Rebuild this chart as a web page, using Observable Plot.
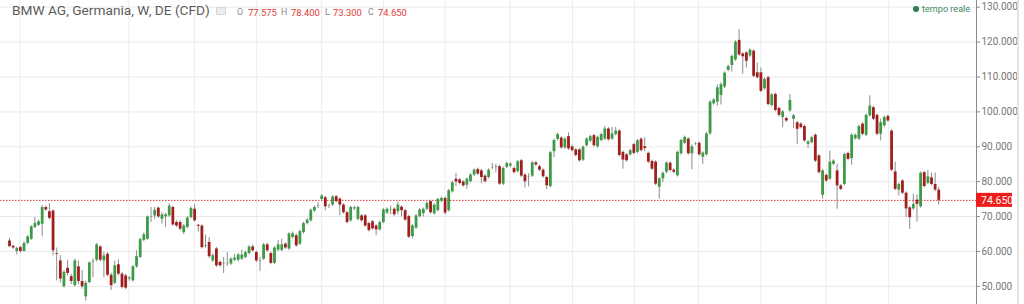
<!DOCTYPE html>
<html><head><meta charset="utf-8">
<script src="https://cdn.jsdelivr.net/npm/d3@7"></script>
<script src="https://cdn.jsdelivr.net/npm/@observablehq/plot@0.6"></script>
<style>
body{margin:0;background:#fff;font-family:Roboto,"Noto Sans",sans-serif;}
#wrap{position:relative;width:1024px;height:304px;overflow:hidden;}
#chart svg{display:block;}
.ab{position:absolute;white-space:nowrap;line-height:1;}
#title{left:12px;top:4px;font-size:13.7px;color:#5c5c5c;}
#ico{left:216px;top:7px;width:8px;height:6px;border:1px solid #d6d6d6;background:#ececec;border-radius:1px;}
.k{font-size:8.8px;color:#8a8a8a;top:8px;}
.v{font-size:9.4px;color:#e53935;top:7.5px;}
#dot{left:913px;top:6px;width:6px;height:6px;border-radius:50%;background:#2e7d50;}
#live{left:922px;top:4.5px;font-size:9.1px;color:#3f8a63;}
#sb{left:1017px;top:0;width:2px;height:304px;background:#e2e2e2;}
</style></head><body>
<div id="wrap"><div id="chart"></div>
<div id="title" class="ab"></div>
<div id="ico" class="ab"></div>
<div id="dot" class="ab"></div>
<div id="live" class="ab"></div>
<div id="sb" class="ab"></div>
</div>
<script>
const titleText = "BMW AG, Germania, W, DE (CFD)";
const liveText = "tempo reale";
const ohlcKeys = ["O","H","L","C"];
const yTicks = [50,60,70,80,90,100,110,120,130];
// vertical grid positions, in candle index units
const vGrid = [2.9,32.9,51,68.1,86,103,120,137.9,155.1,172.2,189.8,207,225,242.2];

const open = [63.0,61.5,60.0,61.1,60.0,62.3,63.5,66.9,67.5,67.8,72.6,71.4,71.6,59.4,57.3,49.9,55.2,52.8,50.2,55.6,
51.4,47.0,51.1,57.0,57.5,61.3,57.3,59.2,53.2,50.9,56.2,53.5,53.0,52.1,51.6,55.6,58.3,63.2,63.5,69.8,
70.2,72.4,69.2,69.9,70.2,72.6,68.3,68.3,65.4,66.9,69.7,72.1,67.5,67.3,61.4,62.6,57.3,60.7,56.9,56.6,
56.5,56.4,57.5,57.5,57.8,58.3,59.4,61.3,59.7,57.2,57.8,61.9,59.4,56.6,60.4,60.3,62.1,60.7,64.0,64.5,
62.1,65.4,68.0,68.8,71.6,72.9,74.9,75.4,73.0,73.3,75.7,75.0,73.3,71.1,68.8,72.2,69.2,70.2,70.2,68.0,
68.5,67.3,66.2,68.3,71.0,71.8,72.1,71.4,72.7,71.7,70.0,64.3,66.7,70.0,70.8,72.1,74.3,70.8,71.7,74.4,
75.2,71.7,77.1,80.7,80.5,79.9,79.0,80.0,81.9,83.5,83.1,81.6,81.2,84.0,84.3,84.3,79.3,84.1,84.5,83.8,
82.9,86.0,81.9,81.3,81.6,85.4,84.3,83.3,81.2,78.6,88.6,92.1,92.5,89.7,92.9,90.0,89.1,89.1,86.2,90.3,
91.6,93.2,90.0,91.8,92.2,95.1,92.2,93.5,94.5,88.4,87.7,87.7,90.6,88.4,92.2,90.0,88.1,85.8,85.6,78.4,
80.8,82.7,85.3,83.3,81.7,88.0,91.0,92.2,88.0,90.7,91.0,87.0,87.7,93.7,102.3,102.8,104.7,107.1,111.9,113.3,
114.9,120.5,116.6,116.9,116.0,117.4,111.2,111.2,106.6,109.8,101.8,105.0,101.0,98.4,98.1,100.3,97.9,96.9,96.5,95.8,
90.7,91.2,93.3,87.4,76.1,81.8,80.7,85.0,83.1,78.8,79.2,88.1,86.6,92.3,92.2,96.5,93.3,98.9,101.2,99.0,
93.6,96.0,98.7,94.5,82.8,77.6,80.2,76.7,72.5,72.2,74.7,72.8,82.6,79.5,81.1,79.2,77.575];
const close = [61.4,61.0,60.9,60.0,62.3,64.2,67.1,68.0,68.5,72.6,71.9,69.5,60.2,59.2,52.1,54.0,53.7,51.4,57.3,51.4,
49.9,50.9,56.7,57.2,61.9,57.5,58.7,53.2,50.2,55.9,53.5,49.7,49.5,52.4,55.6,58.5,63.4,64.8,69.9,69.9,
71.8,69.9,70.5,70.5,73.0,67.6,67.3,66.4,67.3,69.6,72.3,68.8,67.2,61.1,61.6,58.5,58.8,55.9,55.9,56.5,
56.6,57.8,58.1,59.0,59.0,59.7,61.3,60.2,57.3,57.1,61.9,60.2,56.6,61.0,61.9,61.9,61.0,65.0,65.1,61.6,
65.7,68.0,69.0,71.8,72.6,73.0,75.9,72.8,73.1,75.6,74.3,73.3,71.1,68.3,72.6,72.5,72.6,68.8,67.3,66.0,
66.5,66.2,68.3,71.9,72.1,71.9,70.5,73.3,71.7,69.0,64.1,67.3,70.2,71.9,72.1,73.8,71.1,73.3,74.9,75.2,
71.0,77.4,79.7,79.9,79.5,78.8,80.7,81.9,83.3,82.2,81.2,80.0,83.3,84.1,84.2,79.3,83.8,85.2,85.0,82.6,
85.7,81.6,80.0,81.4,85.4,84.8,83.3,81.4,78.8,88.3,91.8,93.5,89.7,92.2,89.4,88.9,87.5,86.0,89.9,92.2,
92.9,90.3,92.7,93.5,95.1,92.0,93.7,94.5,87.5,86.2,86.0,88.9,88.1,91.7,88.9,89.5,85.6,83.6,79.3,80.8,
82.4,85.3,83.2,82.7,88.4,91.8,92.7,88.0,90.0,90.8,87.7,88.2,93.7,102.8,103.4,106.9,107.8,111.1,113.0,115.9,
120.0,116.3,115.8,114.5,117.7,110.2,109.8,105.9,109.3,102.1,104.9,100.4,99.0,100.0,97.4,103.3,98.9,95.0,95.5,91.7,
91.4,92.6,85.9,82.6,83.1,80.2,85.6,85.9,78.8,77.8,87.8,86.4,93.3,93.3,95.8,93.6,99.0,101.7,97.9,93.6,
96.9,98.4,97.4,83.3,77.8,79.2,76.7,72.2,69.7,73.5,73.5,82.4,78.6,81.4,79.2,77.6,74.65];
const high = [63.8,61.8,61.2,61.5,62.8,64.5,67.4,69.7,69.0,73.2,73.0,73.7,71.9,61.0,58.8,54.5,57.5,53.5,57.8,57.3,
54.6,51.5,57.0,57.9,62.3,61.6,59.8,59.7,53.8,57.3,57.6,54.0,53.5,52.8,56.0,60.2,63.8,65.3,70.2,72.6,
72.6,72.8,71.2,71.0,73.7,73.0,68.8,68.8,67.8,70.0,72.8,73.5,67.8,67.6,64.7,64.0,59.3,61.2,57.3,58.3,
59.7,58.2,59.1,59.4,60.4,60.1,61.7,61.8,60.1,58.3,62.3,62.3,59.8,61.4,63.1,63.5,62.5,65.4,65.6,65.0,
66.1,68.4,69.4,72.2,73.0,74.0,76.3,75.8,73.5,76.0,76.1,75.4,73.7,71.5,73.0,73.0,73.0,70.6,70.6,68.4,
68.9,67.7,68.7,72.3,72.5,73.0,72.5,74.2,73.1,72.1,70.4,67.7,70.6,72.3,72.5,74.2,74.7,73.7,75.3,75.6,
75.6,77.8,80.1,82.4,80.9,80.3,81.1,82.3,83.7,83.9,83.5,82.0,83.7,85.2,85.0,84.7,84.2,85.6,85.5,84.2,
86.1,86.4,82.3,82.3,85.8,85.8,84.7,83.7,81.6,88.7,92.2,93.9,92.9,92.6,94.0,90.4,89.5,89.5,90.3,92.6,
93.3,93.6,93.1,93.9,95.8,95.5,95.6,95.6,94.9,88.8,88.1,89.3,91.0,92.1,92.6,92.6,88.5,86.2,86.0,81.2,
82.8,85.7,85.7,83.7,88.8,92.2,93.1,92.6,90.6,91.2,91.4,88.6,94.1,103.2,103.8,107.8,108.4,111.5,113.4,116.3,
120.4,123.6,117.0,117.3,118.1,117.8,114.0,112.6,109.7,110.2,105.3,105.4,101.4,100.4,98.5,105.0,99.3,97.3,96.9,96.2,
91.8,93.0,93.7,87.8,83.5,82.2,88.8,86.3,85.0,79.2,88.2,88.5,93.7,93.7,96.2,96.9,99.4,104.6,101.6,99.4,
97.9,98.8,99.1,94.9,85.6,79.6,80.6,77.1,72.9,76.4,76.2,82.8,83.0,83.2,82.5,82.5,78.4];
const low = [61.1,60.6,59.0,59.6,59.8,61.9,63.2,66.5,67.2,64.2,71.5,69.0,58.8,51.6,51.0,49.5,53.0,50.5,49.8,50.6,
49.2,45.8,50.8,52.5,57.0,57.0,52.5,52.8,48.8,50.5,53.0,49.2,49.0,51.5,51.2,55.2,58.0,62.8,63.2,68.3,
69.2,69.5,67.8,66.9,69.8,67.2,66.9,65.9,64.8,66.5,69.3,68.4,65.6,60.7,61.0,58.0,56.8,55.4,55.5,53.7,
55.7,56.0,57.1,57.0,57.4,57.9,59.0,59.8,56.8,54.3,57.4,59.8,56.2,56.2,60.0,60.0,60.6,60.3,63.6,61.2,
61.7,65.0,67.6,68.4,71.2,72.3,74.5,71.7,72.3,72.9,73.9,70.2,70.7,67.9,68.4,71.7,68.8,68.4,66.9,65.6,
66.1,64.5,65.8,67.9,70.6,70.5,70.1,70.5,69.9,68.6,63.7,63.6,66.3,69.6,69.9,71.7,70.7,70.4,71.3,74.0,
70.4,71.3,76.7,78.6,79.1,78.4,77.8,79.6,81.5,81.8,79.4,79.6,80.8,83.4,82.5,78.9,78.9,83.7,84.0,82.2,
82.5,81.2,78.2,78.5,81.2,84.4,82.9,81.0,77.7,78.2,86.9,91.7,89.3,89.3,89.0,88.5,87.1,85.6,85.8,89.9,
91.2,89.9,89.6,91.4,91.8,91.6,91.8,93.1,87.1,83.6,85.6,87.3,87.7,88.0,88.5,88.6,85.2,83.2,78.9,75.0,
79.7,82.3,82.8,82.3,81.3,87.6,90.6,87.6,83.4,90.3,87.3,84.9,87.3,93.3,101.9,101.6,102.0,106.7,111.5,111.4,
114.5,116.0,110.8,112.6,115.6,109.8,109.4,105.5,106.2,101.7,101.4,100.0,98.6,95.5,97.0,99.9,95.2,90.7,95.1,91.3,
89.5,90.8,85.5,82.2,75.0,79.8,80.3,84.6,72.1,77.4,78.8,86.0,84.7,91.9,91.8,93.2,92.9,98.5,97.5,93.2,
91.7,95.6,97.0,82.9,77.4,75.9,76.3,69.7,66.3,71.8,68.4,72.4,78.2,79.1,78.8,77.2,73.3];

const candles = open.map((o, i) => ({i, open: o, close: close[i], high: high[i], low: low[i]}));
const last = candles[candles.length - 1];
const xDomain = [-2.48, 266.4];
const yDomain = [44.81, 131.92];
const green = "#3d9a47", red = "#a01e1e";
const fmt = d3.format(".3f");

const chart = Plot.plot({
  width: 1024, height: 304,
  marginLeft: 0, marginRight: 48, marginTop: 0, marginBottom: 0,
  x: {domain: xDomain, axis: null},
  y: {domain: yDomain, axis: null},
  style: {background: "transparent", fontFamily: "Roboto, sans-serif"},
  marks: [
    Plot.gridY(yTicks, {stroke: "#e9e9e9", strokeOpacity: 1}),
    Plot.ruleX(vGrid, {stroke: "#ececec"}),
    Plot.ruleY([last.close], {stroke: "#e03030", strokeDasharray: "1.5,1.5", strokeWidth: 1}),
    Plot.ruleX(candles, {x: "i", y1: "low", y2: "high", stroke: "#8c8c8c", strokeWidth: 1}),
    Plot.ruleX(candles, {x: "i", y1: "open", y2: "close", stroke: d => d.close >= d.open ? green : red, strokeWidth: 2.8}),
    Plot.ruleX([xDomain[1]], {stroke: "#8a8a8a"}),
    Plot.axisY(yTicks, {anchor: "right", tickFormat: fmt, tickSize: 3, tickPadding: 2, stroke: "#8a8a8a", fill: "#777", fontSize: 10})
  ]
});
document.getElementById("chart").appendChild(chart);

// current price tag on the axis
const ys = chart.scale("y"), xs = chart.scale("x");
const svg = d3.select(chart);
const px = xs.apply(xDomain[1]), py = ys.apply(last.close);
svg.append("rect").attr("x", px).attr("y", py - 7).attr("width", 36).attr("height", 14).attr("fill", "#f01b1b");
svg.append("text").attr("x", px + 5).attr("y", py).attr("dy", "0.35em").attr("fill", "#fff")
  .attr("text-anchor", "start").attr("font-size", 10.5).attr("font-family", "Roboto, sans-serif").text(fmt(last.close));

// title and legend texts
document.getElementById("title").textContent = titleText;
document.getElementById("live").textContent = liveText;
const wrap = document.getElementById("wrap");
const keyX = [237, 281, 325, 368], valX = [248, 291, 333, 378];
const vals = [last.open, last.high, last.low, last.close];
ohlcKeys.forEach((k, j) => {
  const a = document.createElement("div"); a.className = "ab k"; a.style.left = keyX[j] + "px"; a.textContent = k; wrap.appendChild(a);
  const b = document.createElement("div"); b.className = "ab v"; b.style.left = valX[j] + "px"; b.textContent = fmt(vals[j]); wrap.appendChild(b);
});
</script>
</body></html>
